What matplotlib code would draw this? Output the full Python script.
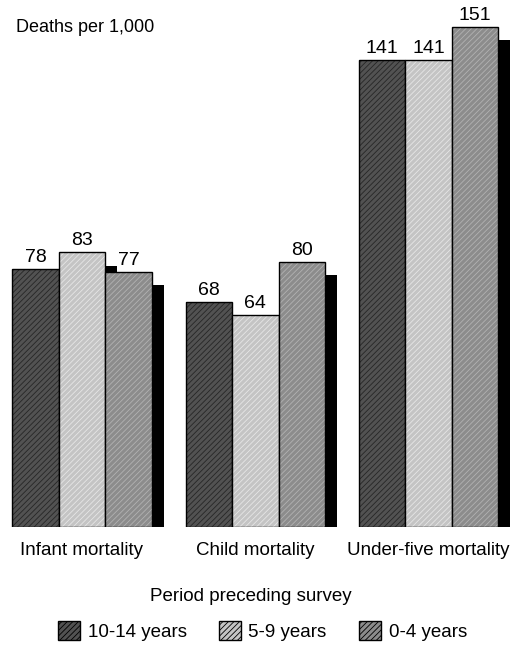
import matplotlib.pyplot as plt
import numpy as np

plt.rcParams['font.family'] = ['Liberation Sans', 'DejaVu Sans']
plt.rcParams['hatch.linewidth'] = 0.6

categories = ["Infant mortality", "Child mortality", "Under-five mortality"]
periods = ["10-14 years", "5-9 years", "0-4 years"]
rates = {
    "10-14 years": [78, 68, 141],
    "5-9 years": [83, 64, 141],
    "0-4 years": [77, 80, 151],
}
fills = ["#525252", "#c4c4c4", "#8c8c8c"]
hatch_cols = ["#262626", "#e6e6e6", "#b2b2b2"]

fig = plt.figure(figsize=(5.16, 6.46), dpi=100)
ax = fig.add_axes([0, 0.1842, 1, 0.8096])

x = np.arange(len(categories))
width = 0.268
shift_x, shift_y = 0.069, 4.0

for i, p in enumerate(periods):
    vals = np.array(rates[p])
    xs = x + (i - 1) * width
    # drop shadow behind each bar
    ax.bar(xs + shift_x, vals - shift_y, width, color="black", linewidth=0,
           zorder=1 + 2 * i)
    ax.bar(xs, vals, width, color=fills[i], edgecolor=hatch_cols[i],
           hatch="//////", linewidth=0, zorder=2 + 2 * i)
    ax.bar(xs, vals, width, fill=False, edgecolor="black", linewidth=1.0,
           zorder=2 + 2 * i)
    for xi, v in zip(xs, vals):
        ax.text(xi, v + 1.0, str(v), ha="center", va="bottom", fontsize=14,
                zorder=10)

# px = 82 + 173.3 * x across the 516 px wide figure
ax.set_xlim(-82 / 173.3, (516 - 82) / 173.3)
ax.set_ylim(0, 158)
ax.axis("off")

for xi, c in zip(x, categories):
    ax.text(xi, -4.6, c, ha="center", va="top", fontsize=13.5)

fig.text(0.031, 0.958, "Deaths per 1,000", ha="left", va="center", fontsize=13)

fig.text(0.4864, 0.0759, "Period preceding survey", ha="center", va="center",
         fontsize=13.5)
handles = [plt.Rectangle((0, 0), 1, 1, facecolor=fills[i], edgecolor="black",
                         hatch="//////", linewidth=1.0) for i in range(3)]
leg = fig.legend(handles, periods, ncol=3,
                 loc="center", bbox_to_anchor=(0.509, 0.0232), frameon=False,
                 fontsize=13.5, handlelength=1.15, borderpad=0,
                 handleheight=1.15, handletextpad=0.4, columnspacing=1.75)

fig.savefig("out.png", dpi=100)
